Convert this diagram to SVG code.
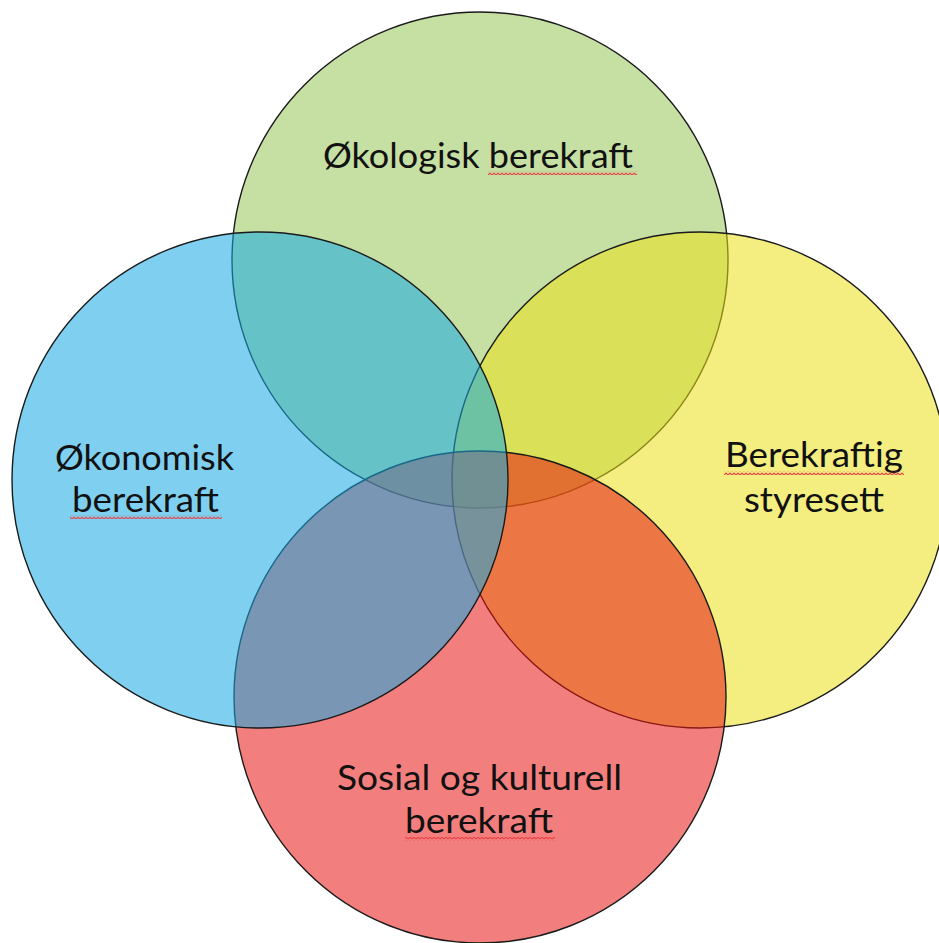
<svg xmlns="http://www.w3.org/2000/svg" width="939" height="943" viewBox="0 0 939 943">
<style>
.c{stroke:#1a1a1a;stroke-width:1.4;fill-opacity:0.55}
.t{font-family:Lato,"Open Sans",sans-serif;font-size:35px;fill:#111;text-anchor:start}
</style>
<defs>
<pattern id="sq" patternUnits="userSpaceOnUse" width="4" height="4">
<path d="M0 3 L2 1 L4 3" fill="none" stroke="#e8454a" stroke-width="1.2"/>
</pattern>
</defs>
<rect width="939" height="943" fill="#fff"/>
<g id="okologisk">
<circle class="c" cx="480" cy="260" r="248" fill="rgb(151,199,90)"/>
</g>
<g id="styresett">
<circle class="c" cx="700" cy="480" r="248" fill="rgb(235,224,24)"/>
</g>
<g id="sosial">
<circle class="c" cx="480" cy="697" r="246" fill="rgb(232,22,18)"/>
</g>
<g id="okonomisk">
<circle class="c" cx="260" cy="480" r="248" fill="rgb(22,170,228)"/>
</g>
<g id="labels">
<text class="t" x="323" y="168" textLength="310" lengthAdjust="spacingAndGlyphs">Økologisk berekraft</text>
<rect x="488" y="171" width="149" height="4" fill="url(#sq)"/>
<text class="t" x="55" y="470" textLength="179" lengthAdjust="spacingAndGlyphs">Økonomisk</text>
<text class="t" x="72" y="512" textLength="147" lengthAdjust="spacingAndGlyphs">berekraft</text>
<rect x="70" y="515" width="152" height="4" fill="url(#sq)"/>
<text class="t" x="725" y="467" textLength="178" lengthAdjust="spacingAndGlyphs">Berekraftig</text>
<rect x="724" y="471" width="180" height="4" fill="url(#sq)"/>
<text class="t" x="744" y="512" textLength="140" lengthAdjust="spacingAndGlyphs">styresett</text>
<text class="t" x="337" y="790" textLength="285" lengthAdjust="spacingAndGlyphs">Sosial og kulturell</text>
<text class="t" x="405" y="833" textLength="148" lengthAdjust="spacingAndGlyphs">berekraft</text>
<rect x="405" y="837" width="150" height="4" fill="url(#sq)"/>
</g>
</svg>
